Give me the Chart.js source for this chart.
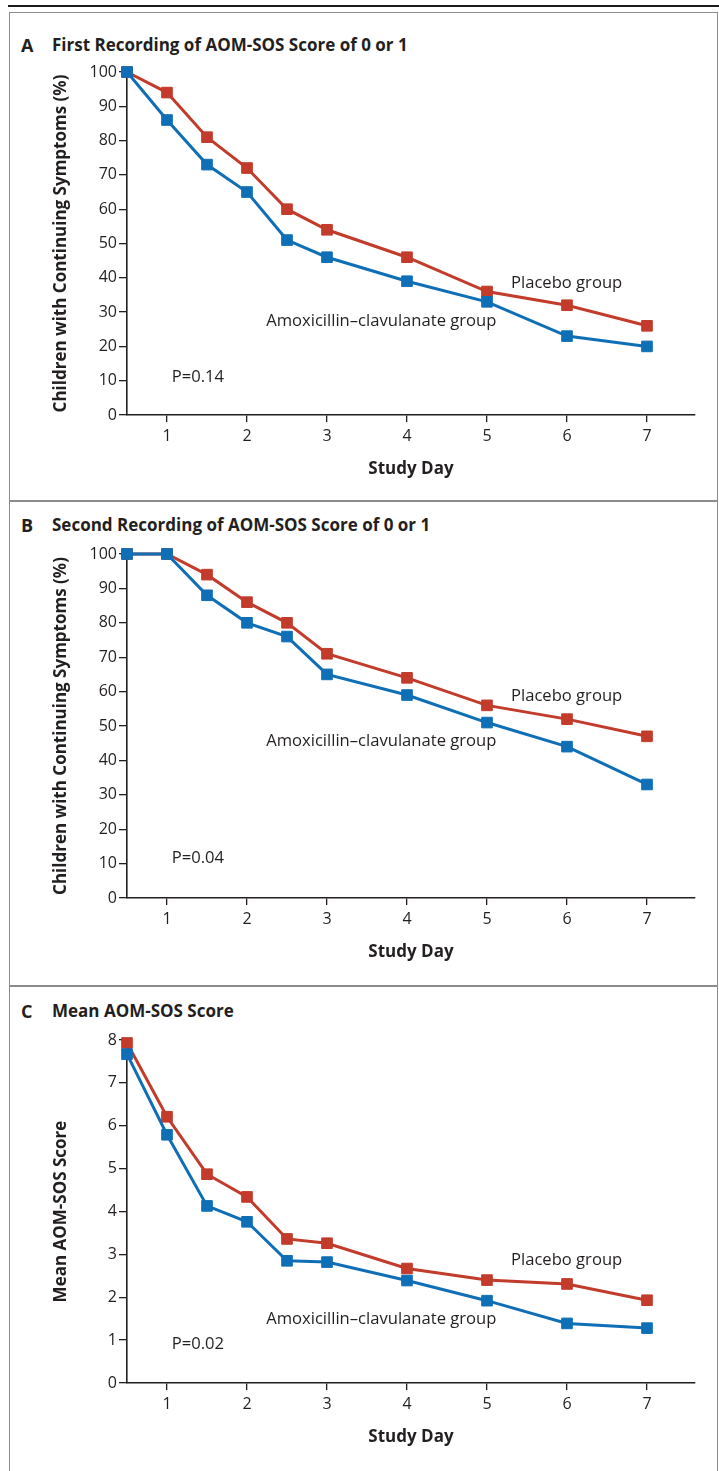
<!DOCTYPE html>
<html>
<head>
<meta charset="utf-8">
<script src="https://cdn.jsdelivr.net/npm/chart.js@4.4.1/dist/chart.umd.min.js"></script>
<style>
  body { margin: 0; background: #fff; }
  #page { position: relative; width: 719px; height: 1471px; overflow: hidden; background: #fff; }
  .rule { position: absolute; left: 8px; top: 5px; width: 711px; height: 2px; background: #1a1a1a; }
  .frame { position: absolute; left: 9px; width: 709px; border: 1.5px solid #8c8c8c; box-sizing: border-box; }
  .head { position: absolute; height: 20px; line-height: 20px; font: bold 17px "Open Sans", sans-serif; color: #231f20; white-space: nowrap; }
  .letter { left: 21px; font-size: 18px; }
  .name { left: 52px; }
  canvas { position: absolute; left: 0; }
</style>
</head>
<body>
<div id="page">
  <div class="rule"></div>
  <div class="frame" style="top:12px;height:490px"></div>
  <div class="frame" style="top:500px;height:487px"></div>
  <div class="frame" style="top:985px;height:500px"></div>

  <div class="head letter" style="top:33px">A</div>
  <div class="head name" id="titleA" style="top:33px"></div>
  <div class="head letter" style="top:513px">B</div>
  <div class="head name" id="titleB" style="top:513px"></div>
  <div class="head letter" style="top:999px">C</div>
  <div class="head name" id="titleC" style="top:999px"></div>

  <canvas id="chartA" width="719" height="487" style="top:13px"></canvas>
  <canvas id="chartB" width="719" height="483" style="top:500px"></canvas>
  <canvas id="chartC" width="719" height="483" style="top:985px"></canvas>
</div>
<script>
// study days on the x axis, tick labels 1..7
const days = [0.5, 1, 1.5, 2, 2.5, 3, 4, 5, 6, 7];
const dayTicks = [1, 2, 3, 4, 5, 6, 7];
const pctTicks = [0, 10, 20, 30, 40, 50, 60, 70, 80, 90, 100];
const scoreTicks = [0, 1, 2, 3, 4, 5, 6, 7, 8];

// A: first recording of AOM-SOS score of 0 or 1 (% with continuing symptoms)
const firstAmox = [100, 86, 73, 65, 51, 46, 39, 33, 23, 20];
const firstPlacebo = [100, 94, 81, 72, 60, 54, 46, 36, 32, 26];

// B: second recording
const secondAmox = [100, 100, 88, 80, 76, 65, 59, 51, 44, 33];
const secondPlacebo = [100, 100, 94, 86, 80, 71, 64, 56, 52, 47];

// C: mean score
const meanAmox = [7.67, 5.79, 4.13, 3.76, 2.85, 2.82, 2.39, 1.92, 1.39, 1.28];
const meanPlacebo = [7.93, 6.21, 4.87, 4.34, 3.36, 3.26, 2.67, 2.40, 2.31, 1.93];

const panelTitles = [
  "First Recording of AOM-SOS Score of 0 or 1",
  "Second Recording of AOM-SOS Score of 0 or 1",
  "Mean AOM-SOS Score"
];
const yTitles = [
  "Children with Continuing Symptoms (%)",
  "Children with Continuing Symptoms (%)",
  "Mean AOM-SOS Score"
];
const xTitle = "Study Day";
const groupNames = ["Amoxicillin\u2013clavulanate group", "Placebo group"];
const pValues = ["P=0.14", "P=0.04", "P=0.02"];

const BLUE = "#0f6fb6";
const RED = "#c23b2b";
const INK = "#231f20";
const FONT = "'Open Sans', sans-serif";

document.getElementById("titleA").textContent = panelTitles[0];
document.getElementById("titleB").textContent = panelTitles[1];
document.getElementById("titleC").textContent = panelTitles[2];

// text labels placed in data units on each panel
function notesPlugin(notes) {
  return {
    id: "notes",
    afterDatasetsDraw(chart) {
      const { ctx, scales } = chart;
      ctx.save();
      ctx.fillStyle = INK;
      ctx.font = "16.6px " + FONT;
      ctx.textAlign = "left";
      ctx.textBaseline = "middle";
      notes.forEach(n => {
        ctx.fillText(n.text, scales.x.getPixelForValue(n.x), scales.y.getPixelForValue(n.y));
      });
      ctx.restore();
    }
  };
}

function series(values) {
  return days.map((d, i) => ({ x: d, y: values[i] }));
}

function makePanel(id, amox, placebo, yTicks, yMax, yTitle, top, notes) {
  const axisFont = { family: FONT, size: 16 };
  const titleFont = { family: FONT, size: 17, weight: "bold" };
  new Chart(document.getElementById(id), {
    type: "line",
    data: {
      datasets: [
        { label: groupNames[0], data: series(amox), borderColor: BLUE, backgroundColor: BLUE,
          pointBorderColor: BLUE, clip: false },
        { label: groupNames[1], data: series(placebo), borderColor: RED, backgroundColor: RED,
          pointBorderColor: RED, clip: false }
      ]
    },
    options: {
      responsive: false,
      animation: false,
      layout: { padding: { top: top, right: 24, bottom: 0, left: 0 } },
      plugins: { legend: { display: false }, tooltip: { enabled: false } },
      elements: {
        line: { borderWidth: 3, tension: 0 },
        point: { pointStyle: "rect", radius: 7.5, borderWidth: 1 }
      },
      scales: {
        x: {
          type: "linear", min: 0.5, max: 7.6,
          afterBuildTicks: s => { s.ticks = dayTicks.map(v => ({ value: v })); },
          afterFit: s => { s.height = 85; },
          grid: { drawOnChartArea: false, tickLength: 7, color: INK, lineWidth: 1.3 },
          border: { color: INK, width: 1.6 },
          ticks: { color: INK, font: axisFont, padding: 5, maxRotation: 0 },
          title: { display: true, text: xTitle, color: INK, font: titleFont, padding: { top: 0, bottom: 21 } }
        },
        y: {
          min: 0, max: yMax,
          afterBuildTicks: s => { s.ticks = yTicks.map(v => ({ value: v })); },
          afterFit: s => { s.width = 127; },
          grid: { drawOnChartArea: false, tickLength: 8, color: INK, lineWidth: 1.3 },
          border: { color: INK, width: 1.6 },
          ticks: { color: INK, font: axisFont, padding: 2 },
          title: { display: true, text: yTitle, color: INK, font: titleFont, padding: { top: 51, bottom: 0 } }
        }
      }
    },
    plugins: [notesPlugin(notes)]
  });
}

makePanel("chartA", firstAmox, firstPlacebo, pctTicks, 100, yTitles[0], 59, [
  { text: groupNames[1], x: 5.3, y: 38.5 },
  { text: groupNames[0], x: 2.24, y: 27.4 },
  { text: pValues[0], x: 1.06, y: 11.1 }
]);
makePanel("chartB", secondAmox, secondPlacebo, pctTicks, 100, yTitles[1], 54, [
  { text: groupNames[1], x: 5.3, y: 58.7 },
  { text: groupNames[0], x: 2.24, y: 45.6 },
  { text: pValues[1], x: 1.06, y: 11.6 }
]);
makePanel("chartC", meanAmox, meanPlacebo, scoreTicks, 8, yTitles[2], 55, [
  { text: groupNames[1], x: 5.3, y: 2.87 },
  { text: groupNames[0], x: 2.24, y: 1.49 },
  { text: pValues[2], x: 1.06, y: 0.91 }
]);
</script>
</body>
</html>
